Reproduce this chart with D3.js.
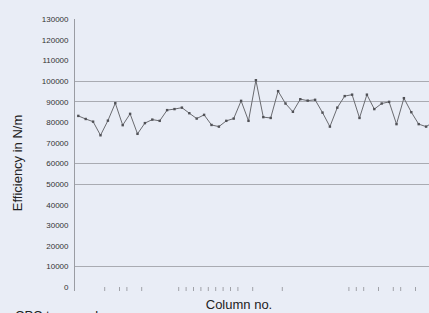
<!DOCTYPE html>
<html>
<head>
<meta charset="utf-8">
<script src="https://cdn.jsdelivr.net/npm/d3@7"></script>
<style>
  html, body { margin: 0; padding: 0; background: #e9edf6; }
  svg { display: block; font-family: "Liberation Sans", Arial, sans-serif; }
</style>
</head>
<body>
<div id="chart"></div>
<script>
'use strict';

// column numbers and efficiency values
var columns = d3.range(1, 50);
var efficiency = [
  83000, 81500, 80200, 73600, 80700, 89200, 78500, 84000, 74300, 79500,
  81200, 80600, 85800, 86300, 87000, 84300, 81700, 83500, 78600, 77800,
  80600, 81700, 90300, 80600, 100300, 82400, 82000, 95000, 89000, 85000,
  91100, 90400, 90800, 84600, 77800, 87000, 92600, 93300, 82000, 93300,
  86300, 89000, 89800, 79000, 91600, 84800, 79000, 77800, 80000
];
var yTicks = d3.range(0, 130001, 10000);
var gridValues = [10000, 50000, 60000, 90000, 100000];
// tick marks that show on the category axis (between columns)
var xTickCols = [4.5, 6.5, 7.5, 9.5, 14.5, 15.5, 16.5, 17.5, 18.5, 19.5, 20.5,
  21.5, 22.5, 24.5, 28.5, 37.5, 38.5, 39.5, 41.5, 43.5, 44.5, 46.5];

var svgWidth = 429;
var svgHeight = 313;

var svg = d3.select('#chart').append('svg')
  .attr('width', svgWidth)
  .attr('height', svgHeight);

svg.append('rect')
  .attr('width', svgWidth)
  .attr('height', svgHeight)
  .attr('fill', '#e9edf6');

var axisX = 74;
var x = d3.scaleLinear().domain([1, 49]).range([78.3, 433.5]);
var y = d3.scaleLinear().domain([0, 130000]).range([287, 19]);

var data = columns.map(function(c, i) { return {col: c, value: efficiency[i]}; });

// gridlines
svg.append('g')
  .selectAll('line')
  .data(gridValues)
  .join('line')
  .attr('x1', axisX)
  .attr('x2', svgWidth)
  .attr('y1', function(d) { return Math.round(y(d)) + 0.5; })
  .attr('y2', function(d) { return Math.round(y(d)) + 0.5; })
  .attr('stroke', '#a9abb2')
  .attr('stroke-width', 1);

// y axis
var yAxis = svg.append('g')
  .attr('transform', 'translate(' + (axisX + 0.5) + ',0)')
  .call(d3.axisLeft(y).tickValues(yTicks).tickSize(0).tickPadding(6).tickFormat(d3.format('d')));
yAxis.select('.domain').remove();
yAxis.selectAll('text')
  .attr('fill', '#333')
  .style('font-size', '8px')
  .style('font-family', '"Liberation Sans", Arial, sans-serif');

svg.append('line')
  .attr('x1', axisX + 0.5)
  .attr('x2', axisX + 0.5)
  .attr('y1', y(130000))
  .attr('y2', 291)
  .attr('stroke', '#9a9ca3');

// x axis: ticks only, no labels
var xAxis = svg.append('g')
  .attr('transform', 'translate(0,287)')
  .call(d3.axisBottom(x).tickValues(xTickCols).tickSize(4).tickFormat(''));
xAxis.select('.domain').remove();
xAxis.selectAll('line').attr('stroke', '#a0a2a8');

// series
var line = d3.line()
  .x(function(d) { return x(d.col); })
  .y(function(d) { return y(d.value); });

svg.append('path')
  .datum(data)
  .attr('fill', 'none')
  .attr('stroke', '#6a6b70')
  .attr('stroke-width', 1)
  .attr('d', line);

svg.append('g')
  .selectAll('rect')
  .data(data)
  .join('rect')
  .attr('x', function(d) { return x(d.col) - 1.2; })
  .attr('y', function(d) { return y(d.value) - 1.2; })
  .attr('width', 2.4)
  .attr('height', 2.4)
  .attr('fill', '#505156');

// titles
svg.append('text')
  .attr('transform', 'translate(22,163) rotate(-90)')
  .attr('text-anchor', 'middle')
  .attr('fill', '#222')
  .style('font-size', '13px')
  .text('Efficiency in N/m');

svg.append('text')
  .attr('x', 239)
  .attr('y', 309)
  .attr('text-anchor', 'middle')
  .attr('fill', '#222')
  .style('font-size', '13px')
  .text('Column no.');

// note below the chart, mostly cut off by the frame as in the picture
svg.append('text')
  .attr('x', 15)
  .attr('y', 320)
  .attr('fill', '#222')
  .style('font-size', '13px')
  .text('CPC tower column');
</script>
</body>
</html>
